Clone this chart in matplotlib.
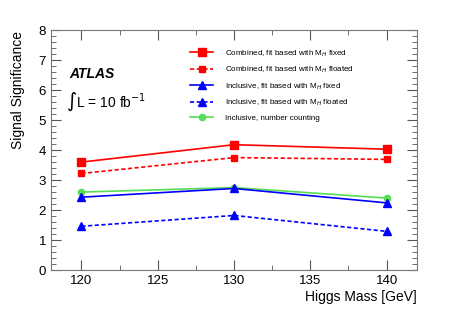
import numpy as np
import matplotlib
matplotlib.use('Agg')
import matplotlib.pyplot as plt
from matplotlib.ticker import MultipleLocator

plt.rcParams['font.family'] = ['Liberation Sans', 'DejaVu Sans']

# Datos
masas = [120, 130, 140]
comb_fijo = [3.60, 4.18, 4.03]
comb_flot = [3.22, 3.75, 3.69]
incl_fijo = [2.43, 2.72, 2.24]
incl_flot = [1.46, 1.82, 1.29]
incl_conteo = [2.60, 2.75, 2.40]

etiquetas = [
    'Combined, fit based with M$_H$ fixed',
    'Combined, fit based with M$_H$ floated',
    'Inclusive, fit based with M$_H$ fixed',
    'Inclusive, fit based with M$_H$ floated',
    'Inclusive, number counting',
]

fig = plt.figure(figsize=(4.63, 3.14), dpi=100)
ax = fig.add_axes([0.110, 0.140, 0.791, 0.764])

guion = (0, (2.5, 1.5))
ax.plot(masas, comb_fijo, '-', color='#ff0000', marker='s', ms=6, lw=1.2, label=etiquetas[0])
ax.plot(masas, comb_flot, linestyle=guion, color='#ff0000', marker='s', ms=5, lw=1.2, label=etiquetas[1])
ax.plot(masas, incl_fijo, '-', color='#0000ff', marker='^', ms=6, lw=1.2, label=etiquetas[2], zorder=3)
ax.plot(masas, incl_flot, linestyle=guion, color='#0000ff', marker='^', ms=6, lw=1.2, label=etiquetas[3])
ax.plot(masas, incl_conteo, '-', color='#55dd55', marker='o', ms=4.5, lw=1.2, label=etiquetas[4])

ax.set_xlim(118, 142)
ax.set_ylim(0, 8)
ax.xaxis.set_major_locator(MultipleLocator(5))
ax.xaxis.set_minor_locator(MultipleLocator(2.5))
ax.yaxis.set_major_locator(MultipleLocator(1))
ax.yaxis.set_minor_locator(MultipleLocator(0.2))
ax.tick_params(which='both', direction='in', top=True, right=True, color='#555555')
ax.tick_params(which='major', length=7, labelsize=9.5)
ax.tick_params(which='minor', length=3.5)
for s in ax.spines.values():
    s.set_color('#777777')

ax.set_xlabel('Higgs Mass [GeV]', fontsize=10, loc='right')
ax.set_ylabel('Signal Significance', fontsize=10, loc='top')
ax.xaxis.set_label_coords(1.0, -0.085)
ax.yaxis.set_label_coords(-0.07, 0.995)

ax.text(0.05, 0.80, 'ATLAS', transform=ax.transAxes, fontsize=10,
        fontweight='bold', fontstyle='italic')
ax.text(0.04, 0.68, r'$\int$L = 10 fb$^{-1}$', transform=ax.transAxes, fontsize=10)

ax.legend(loc='upper left', bbox_to_anchor=(0.36, 0.955), frameon=False,
          fontsize=5.8, handlelength=2.9, labelspacing=0.75, handletextpad=1.5)

plt.savefig('out.png', dpi=100)
